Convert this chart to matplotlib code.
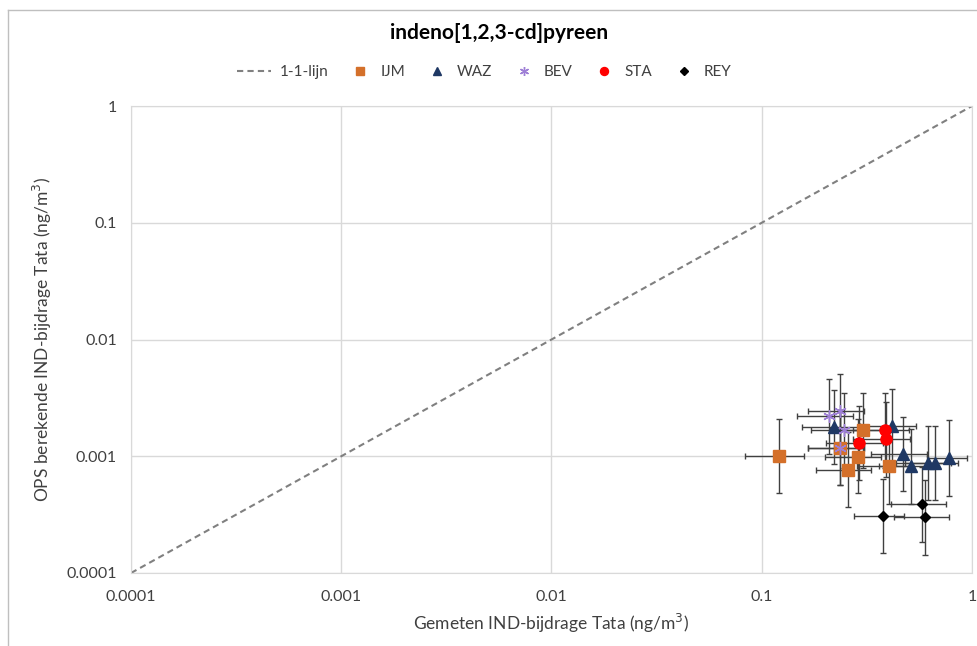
import matplotlib
matplotlib.use("Agg")
import matplotlib.pyplot as plt
from matplotlib.lines import Line2D
from matplotlib.legend_handler import HandlerLine2D
import numpy as np

plt.rcParams['font.family'] = ['Lato', 'DejaVu Sans']

# ---- data ----
ijm_x = [0.121, 0.302, 0.236, 0.286, 0.256, 0.404]
ijm_y = [0.00100, 0.00167, 0.00118, 0.00099, 0.00077, 0.00082]
ijm_xerr = [0.038, 0.090, 0.070, 0.085, 0.075, 0.120]
ijm_ylo = [0.00052, 0.00087, 0.00061, 0.00051, 0.00040, 0.00043]
ijm_yhi = [0.00110, 0.00180, 0.00130, 0.00110, 0.00085, 0.00090]

waz_x = [0.221, 0.418, 0.470, 0.513, 0.616, 0.670, 0.780]
waz_y = [0.00178, 0.00180, 0.00104, 0.00082, 0.00088, 0.00088, 0.00096]
waz_xerr = [0.066, 0.125, 0.140, 0.150, 0.180, 0.190, 0.170]
waz_ylo = [0.00093, 0.00094, 0.00054, 0.00043, 0.00046, 0.00046, 0.00050]
waz_yhi = [0.00195, 0.00195, 0.00115, 0.00090, 0.00095, 0.00095, 0.00110]

bev_x = [0.210, 0.236, 0.245, 0.236]
bev_y = [0.00220, 0.00243, 0.00167, 0.00118]
bev_xerr = [0.063, 0.070, 0.073, 0.070]
bev_ylo = [0.00115, 0.00127, 0.00087, 0.00061]
bev_yhi = [0.00240, 0.00265, 0.00180, 0.00130]

sta_x = [0.387, 0.390, 0.290]
sta_y = [0.00167, 0.00140, 0.00131]
sta_xerr = [0.115, 0.117, 0.087]
sta_ylo = [0.00087, 0.00073, 0.00068]
sta_yhi = [0.00180, 0.00150, 0.00140]

rey_x = [0.376, 0.580, 0.600]
rey_y = [0.00031, 0.00039, 0.00030]
rey_xerr = [0.100, 0.170, 0.175]
rey_ylo = [0.000163, 0.000205, 0.000157]
rey_yhi = [0.00033, 0.00042, 0.00032]

line11 = [0.0001, 1]

series = [
    ("IJM", ijm_x, ijm_y, ijm_xerr, ijm_ylo, ijm_yhi, dict(marker='s', color='#D4702A', ms=8, mec='#D4702A')),
    ("WAZ", waz_x, waz_y, waz_xerr, waz_ylo, waz_yhi, dict(marker='^', color='#1F3864', ms=8, mec='#1F3864')),
    ("BEV", bev_x, bev_y, bev_xerr, bev_ylo, bev_yhi, dict(marker=(6, 2, 0), color='#9E7FD6', ms=9, mec='#9E7FD6', mew=1.0)),
    ("STA", sta_x, sta_y, sta_xerr, sta_ylo, sta_yhi, dict(marker='o', color='#FF0000', ms=8, mec='#FF0000')),
    ("REY", rey_x, rey_y, rey_xerr, rey_ylo, rey_yhi, dict(marker='D', color='#000000', ms=5.5, mec='#000000')),
]

fig = plt.figure(figsize=(9.78, 6.46), dpi=100)
ax = fig.add_axes([131/978, 1-573/646, (972-131)/978, (573-106)/646])

ax.plot(line11, line11, linestyle=(0, (3, 2)), color='#808080', lw=1.5, zorder=2)

for name, x, y, xe, ylo, yhi, st in series:
    ax.errorbar(x, y, xerr=xe, yerr=[ylo, yhi], fmt='none', ecolor='#404040',
                elinewidth=1.0, capsize=2.5, capthick=1.0, zorder=3)
for name, x, y, xe, ylo, yhi, st in series:
    ax.plot(x, y, linestyle='none', zorder=4, **st)

ax.set_xscale('log')
ax.set_yscale('log')
ax.set_xlim(0.0001, 1)
ax.set_ylim(0.0001, 1)
ticks = [0.0001, 0.001, 0.01, 0.1, 1]
ticklabels = ['0.0001', '0.001', '0.01', '0.1', '1']
ax.set_xticks(ticks)
ax.set_xticklabels(ticklabels)
ax.set_yticks(ticks)
ax.set_yticklabels(ticklabels)
ax.minorticks_off()
ax.tick_params(axis='both', length=0, labelsize=11.5, colors='#404040')
ax.tick_params(axis='x', pad=12)
ax.tick_params(axis='y', pad=10)
ax.grid(True, color='#D9D9D9', lw=1)
ax.set_axisbelow(True)
for s in ax.spines.values():
    s.set_color('#D9D9D9')

ax.set_xlabel('Gemeten IND-bijdrage Tata (ng/m$^3$)', fontsize=12.5, color='#404040', labelpad=6)
ax.set_ylabel('OPS berekende IND-bijdrage Tata (ng/m$^3$)', fontsize=12.5, color='#404040', labelpad=9)

fig.text(499/978, 1-33/646, 'indeno[1,2,3-cd]pyreen', ha='center', va='center',
         fontsize=15, fontweight='bold', color='#000000')


class LongLineHandler(HandlerLine2D):
    def create_artists(self, legend, orig_handle, xdescent, ydescent, width, height, fontsize, trans):
        y = height / 2.0 - ydescent
        extra = 0.8 * fontsize
        ln = Line2D([-xdescent - extra, width - xdescent], [y, y])
        self.update_prop(ln, orig_handle, legend)
        ln.set_transform(trans)
        return [ln]


line_handle = Line2D([], [], linestyle=(0, (3, 2)), color='#808080', lw=1.5)
handles = [line_handle]
labels = ['1-1-lijn']
for name, x, y, xe, ylo, yhi, st in series:
    st2 = dict(st)
    st2['ms'] = st['ms'] * 0.72
    handles.append(Line2D([], [], linestyle='none', **st2))
    labels.append(name)
fig.legend(handles, labels, loc='center', bbox_to_anchor=(490/978, 1-72/646), ncol=6,
           frameon=False, fontsize=11, handlelength=1.45, columnspacing=1.35, handletextpad=0.58,
           labelcolor='#404040', handler_map={line_handle: LongLineHandler()})

# outer frame lines (left and top)
fig.add_artist(Line2D([8/978, 8/978], [0, 1-10/646], transform=fig.transFigure, color='#BFBFBF', lw=1))
fig.add_artist(Line2D([8/978, 1], [1-10/646, 1-10/646], transform=fig.transFigure, color='#BFBFBF', lw=1))

fig.savefig('out.png', dpi=100)
